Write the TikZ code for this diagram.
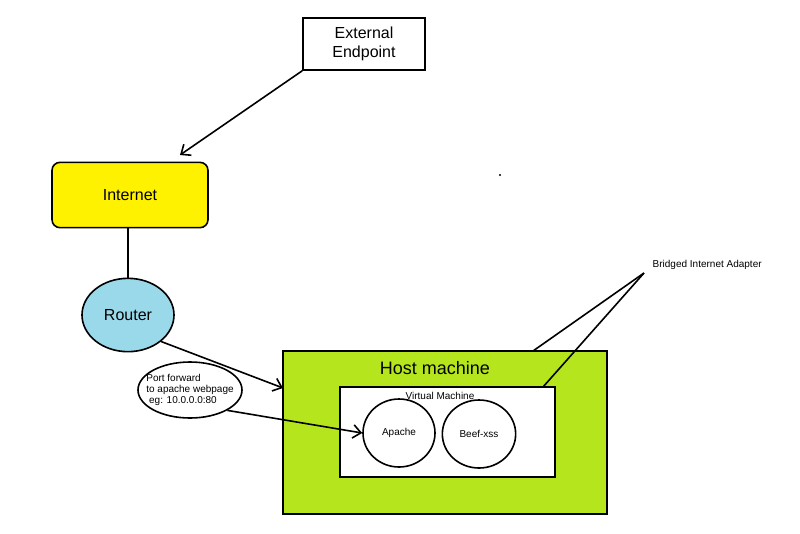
\documentclass[tikz,border=0pt]{standalone}
\usepackage{fontspec}
\setmainfont{Liberation Sans}
\usetikzlibrary{shapes.geometric,positioning,arrows.meta}
\definecolor{hostgreen}{HTML}{B5E61D}
\definecolor{routerblue}{HTML}{99D9EA}
\tikzset{
	caja/.style={rectangle, draw, line width=1.2pt, align=center},
	burbuja/.style={ellipse, draw, line width=1.2pt, inner sep=0pt, align=left},
	flecha/.style={->, line width=1.2pt, >={Straight Barb[length=6pt,width=10pt]}},
	linea/.style={line width=1.2pt}
}

\begin{document}
\begin{tikzpicture}[x=0.75pt, y=-0.75pt]
			\useasboundingbox (0,0) rectangle (800,533);
			\node[caja, minimum width=91.5pt, minimum height=39pt, font=\fontsize{12}{14}\selectfont] (ext) at (364,44) {External\\Endpoint};
			\node[caja, rounded corners=6pt, fill=yellow, minimum width=117pt, minimum height=49pt, font=\fontsize{12}{14}\selectfont] (inet) at (130,195) {Internet};
			\node[burbuja, fill=routerblue, minimum width=69pt, minimum height=55pt, font=\fontsize{12}{14}\selectfont] (router) at (128,315) {Router};
			
			\node[caja, fill=hostgreen, minimum width=243pt, minimum height=122pt] (host) at (445,432.5) {};
			\node[font=\fontsize{13.5}{16}\selectfont] (hostlbl) at (435,368) {Host machine};
			\node[caja, fill=white, minimum width=161pt, minimum height=67.5pt] (vm) at (447.5,432) {};
			\node[font=\fontsize{7.5}{9}\selectfont] (vmlbl) at (440,396) {Virtual Machine};
			\node[burbuja, minimum width=54pt, minimum height=51pt, font=\fontsize{7.5}{9}\selectfont] (apache) at (399,433) {Apache};
			\node[burbuja, minimum width=55pt, minimum height=51pt, font=\fontsize{7.5}{9}\selectfont] (beef) at (479,434) {Beef-xss};
			\node[burbuja, inner xsep=-7pt, inner ysep=-3pt, minimum width=78pt, minimum height=42pt, font=\fontsize{7.5}{8.5}\selectfont] (pf) at (190,390) {Port forward\\to apache webpage\\\ eg: 10.0.0.0:80};
			
			\node[font=\fontsize{7.5}{9}\selectfont, anchor=west] (bridge) at (648,265) {Bridged Internet Adapter};
			\coordinate (btip) at (644,273);
			\coordinate (hosttop) at (533,351);
			\coordinate (vmtop) at (543,387);
			\coordinate (hostin) at (283,388);
			\coordinate (inettip) at (180,155);
			\fill (500,175) circle (0.8pt);
			
			\draw[flecha] (ext.south west) -- (inettip);
			\draw[linea] (inet.south -| router.north) -- (router.north);
			\draw[flecha] (router.south east) -- (hostin);
			\draw[flecha] (pf.south east) -- (apache.west);
			\draw[linea] (btip) -- (hosttop);
			\draw[linea] (btip) -- (vmtop);
		\end{tikzpicture}
\end{document}
